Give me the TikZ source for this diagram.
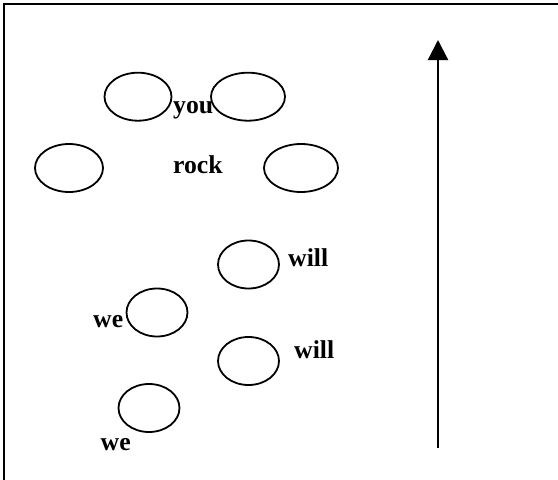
\documentclass[tikz,border=0pt]{standalone}
\usepackage{fontspec}
\setmainfont{Liberation Serif}
\usetikzlibrary{shapes.geometric,arrows.meta}
\begin{document}
\begin{tikzpicture}[x=1pt,y=-1pt,
  oval/.style={draw,ellipse,line width=1.8pt,inner sep=0pt,minimum height=48pt},
  word/.style={font=\fontsize{25.7}{30}\selectfont\bfseries,inner sep=0pt,anchor=base west},
  frame/.style={line width=2pt}]
\useasboundingbox (0,0) rectangle (558,480);
\coordinate (fbl) at (4.3,481);
\coordinate (ftl) at (4.3,4.2);
\coordinate (ftr) at (559,4.2);
\draw[frame] (fbl) -- (ftl) -- (ftr);
% ellipses
\node[oval,minimum width=67pt] (e1) at (138,96.7) {};
\node[oval,minimum width=74pt] (e2) at (248,96.7) {};
\node[oval,minimum width=68pt] (e3) at (69,168) {};
\node[oval,minimum width=74pt] (e4) at (301,168) {};
\node[oval,minimum width=61pt] (e5) at (248.5,264.5) {};
\node[oval,minimum width=61pt] (e6) at (157,312.5) {};
\node[oval,minimum width=61pt] (e7) at (248.5,361) {};
\node[oval,minimum width=61pt] (e8) at (149,408) {};
% words
\node[word] (you) at (173,113) {you};
\node[word] (rock) at (173,173) {rock};
\node[word] (will1) at (288,266) {will};
\node[word] (we1) at (93,327) {we};
\node[word] (will2) at (294,358) {will};
\node[word] (we2) at (100.5,450) {we};
% arrow
\coordinate (abot) at (438,448);
\coordinate (atop) at (438,40);
\draw[line width=2.2pt,-{Triangle[length=20pt,width=20pt]}] (abot) -- (atop);
\end{tikzpicture}
\end{document}
